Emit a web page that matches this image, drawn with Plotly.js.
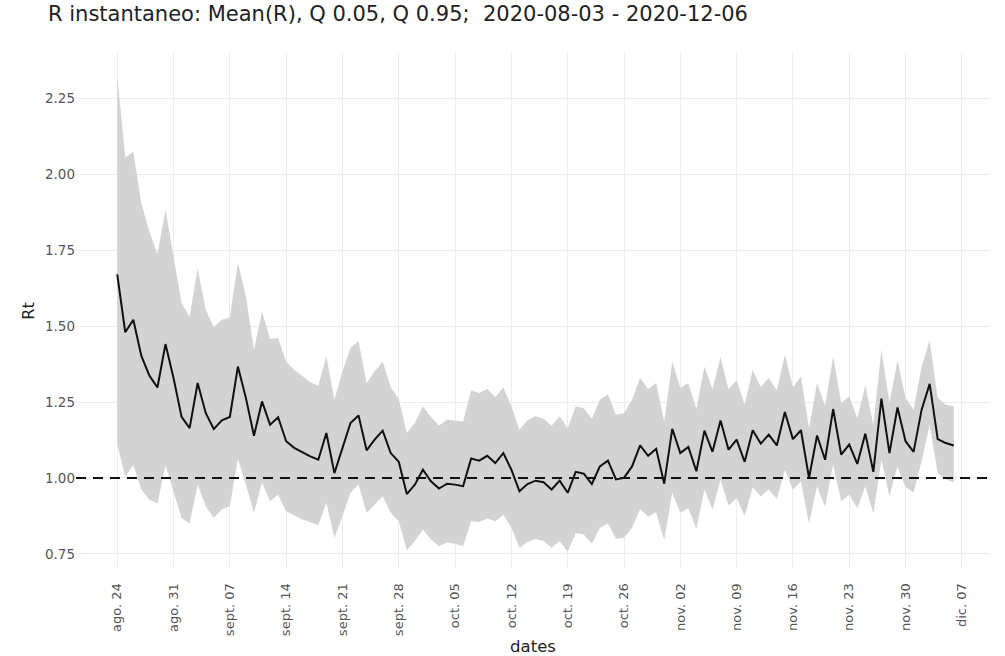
<!DOCTYPE html>
<html>
<head>
<meta charset="utf-8">
<script src="https://cdn.plot.ly/plotly-3.0.1.min.js"></script>
<style>
  html, body { margin: 0; padding: 0; background: #fff; }
  #chart { width: 1005px; height: 656px; }
</style>
</head>
<body>
<div id="chart"></div>
<script>
  // serie diaria desde 2020-08-24 hasta 2020-12-06
  var startDate = "2020-08-24";

  var meanR = [
    1.671, 1.480, 1.521, 1.402, 1.337, 1.298, 1.441, 1.329, 1.201, 1.164,
    1.313, 1.214, 1.161, 1.190, 1.201, 1.367, 1.263, 1.139, 1.252, 1.175,
    1.200, 1.121, 1.099, 1.084, 1.071, 1.060, 1.148, 1.016, 1.099, 1.181,
    1.206, 1.091, 1.126, 1.156, 1.082, 1.053, 0.947, 0.978, 1.027, 0.989,
    0.965, 0.981, 0.978, 0.973, 1.064, 1.057, 1.073, 1.049, 1.082, 1.027,
    0.956, 0.980, 0.991, 0.986, 0.962, 0.991, 0.951, 1.020, 1.014, 0.980,
    1.038, 1.057, 0.995, 1.000, 1.038, 1.107, 1.073, 1.096, 0.981, 1.162,
    1.082, 1.102, 1.022, 1.156, 1.086, 1.189, 1.093, 1.126, 1.053, 1.157,
    1.113, 1.143, 1.107, 1.217, 1.128, 1.157, 1.000, 1.140, 1.060, 1.227,
    1.077, 1.110, 1.046, 1.146, 1.020, 1.261, 1.082, 1.232, 1.121, 1.086,
    1.225, 1.310, 1.128, 1.115, 1.107
  ];

  var q95 = [
    2.327, 2.055, 2.075, 1.905, 1.811, 1.737, 1.883, 1.729, 1.576, 1.532,
    1.691, 1.554, 1.497, 1.521, 1.529, 1.709, 1.598, 1.422, 1.548, 1.458,
    1.461, 1.384, 1.356, 1.337, 1.315, 1.304, 1.400, 1.258, 1.351, 1.428,
    1.450, 1.313, 1.351, 1.384, 1.299, 1.260, 1.148, 1.181, 1.236, 1.201,
    1.173, 1.192, 1.190, 1.186, 1.288, 1.280, 1.293, 1.266, 1.298, 1.236,
    1.159, 1.190, 1.203, 1.195, 1.172, 1.203, 1.164, 1.236, 1.230, 1.195,
    1.258, 1.276, 1.208, 1.214, 1.258, 1.329, 1.293, 1.313, 1.186, 1.384,
    1.296, 1.313, 1.227, 1.367, 1.291, 1.398, 1.291, 1.323, 1.241, 1.356,
    1.299, 1.329, 1.288, 1.406, 1.299, 1.334, 1.164, 1.313, 1.236, 1.400,
    1.247, 1.269, 1.197, 1.304, 1.175, 1.422, 1.247, 1.387, 1.263, 1.225,
    1.367, 1.453, 1.263, 1.241, 1.236
  ];

  var q05 = [
    1.110, 1.005, 1.042, 0.962, 0.929, 0.916, 1.042, 0.956, 0.868, 0.850,
    0.978, 0.907, 0.868, 0.896, 0.907, 1.062, 0.978, 0.885, 0.986, 0.923,
    0.945, 0.890, 0.876, 0.863, 0.854, 0.845, 0.918, 0.803, 0.874, 0.951,
    0.978, 0.885, 0.912, 0.940, 0.885, 0.857, 0.762, 0.792, 0.830, 0.797,
    0.775, 0.788, 0.783, 0.775, 0.857, 0.855, 0.866, 0.857, 0.879, 0.836,
    0.770, 0.789, 0.799, 0.792, 0.770, 0.792, 0.757, 0.819, 0.814, 0.783,
    0.836, 0.850, 0.800, 0.803, 0.836, 0.898, 0.872, 0.887, 0.795, 0.951,
    0.885, 0.901, 0.832, 0.962, 0.896, 0.995, 0.909, 0.934, 0.874, 0.969,
    0.940, 0.962, 0.931, 1.027, 0.962, 0.989, 0.850, 0.973, 0.905, 1.044,
    0.923, 0.945, 0.899, 0.973, 0.883, 1.060, 0.940, 1.038, 0.970, 0.953,
    1.055, 1.175, 1.016, 0.995, 0.986
  ];

  var tickDates = [
    "2020-08-24", "2020-08-31", "2020-09-07", "2020-09-14", "2020-09-21",
    "2020-09-28", "2020-10-05", "2020-10-12", "2020-10-19", "2020-10-26",
    "2020-11-02", "2020-11-09", "2020-11-16", "2020-11-23", "2020-11-30",
    "2020-12-07"
  ];
  var tickLabels = [
    "ago. 24", "ago. 31", "sept. 07", "sept. 14", "sept. 21",
    "sept. 28", "oct. 05", "oct. 12", "oct. 19", "oct. 26",
    "nov. 02", "nov. 09", "nov. 16", "nov. 23", "nov. 30",
    "dic. 07"
  ];

  var titleText = "R instantaneo: Mean(R), Q 0.05, Q 0.95;  2020-08-03 - 2020-12-06";

  function isoDay(base, n) {
    var d = new Date(base + "T00:00:00Z");
    d.setUTCDate(d.getUTCDate() + n);
    return d.toISOString().slice(0, 10);
  }
  var dates = meanR.map(function (_, i) { return isoDay(startDate, i); });

  var FG = "#444", GRID = "#ececec", FONT = "DejaVu Sans, Verdana, sans-serif";

  var traces = [
    { type: "scatter", mode: "lines", x: dates, y: q95, name: "Q 0.95",
      line: { width: 0, color: "#d3d3d3" }, hoverinfo: "skip", showlegend: false },
    { type: "scatter", mode: "lines", x: dates, y: q05, name: "Q 0.05",
      fill: "tonexty", fillcolor: "#d3d3d3",
      line: { width: 0, color: "#d3d3d3" }, hoverinfo: "skip", showlegend: false },
    { type: "scatter", mode: "lines", x: dates, y: meanR, name: "Mean(R)",
      line: { width: 2, color: "#111" }, showlegend: false }
  ];

  var layout = {
    width: 1005, height: 656,
    margin: { l: 76, r: 15, t: 53, b: 87 },
    paper_bgcolor: "#fff", plot_bgcolor: "#fff",
    font: { family: FONT, color: FG, size: 13 },
    title: { text: titleText, font: { family: FONT, size: 21, color: "#222" },
             xref: "container", x: 48 / 1005, xanchor: "left",
             yref: "container", y: 1 - 14 / 656, yanchor: "middle" },
    xaxis: {
      type: "date",
      range: ["2020-08-18 21:00", "2020-12-10 12:00"],
      tickvals: tickDates, ticktext: tickLabels, tickangle: -90,
      ticks: "outside", ticklen: 8, tickcolor: "rgba(0,0,0,0)",
      tickfont: { family: FONT, size: 13, color: "#555" },
      gridcolor: GRID, showline: false, zeroline: false,
      title: { text: "dates", font: { family: FONT, size: 16.5, color: "#222" }, standoff: 8 }
    },
    yaxis: {
      range: [0.70, 2.40],
      tickvals: [0.75, 1.00, 1.25, 1.50, 1.75, 2.00, 2.25],
      ticktext: ["0.75", "1.00", "1.25", "1.50", "1.75", "2.00", "2.25"],
      tickfont: { family: FONT, size: 13.5, color: "#555" },
      gridcolor: GRID, showline: false, zeroline: false,
      title: { text: "Rt", font: { family: FONT, size: 16, color: "#222" }, standoff: 6 }
    },
    shapes: [
      { type: "line", xref: "paper", x0: 0, x1: 1, yref: "y", y0: 1, y1: 1,
        line: { color: "#111", width: 2, dash: "10px,7px" }, layer: "above" }
    ],
    showlegend: false
  };

  Plotly.newPlot("chart", traces, layout, { displayModeBar: false, staticPlot: true });
</script>
</body>
</html>
